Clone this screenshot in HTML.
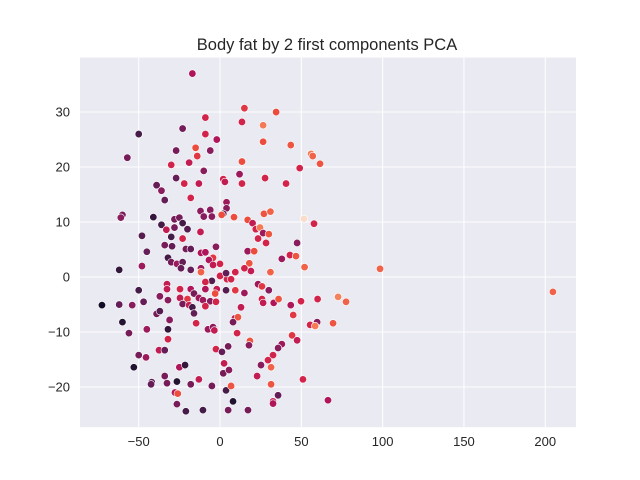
<!DOCTYPE html>
<html><head><meta charset="utf-8">
<style>
html,body{margin:0;padding:0;background:#fff;}
svg{display:block;font-family:"Liberation Sans","DejaVu Sans",sans-serif;}
</style></head>
<body>
<svg id="chart" width="640" height="480" viewBox="0 0 640 480" xmlns="http://www.w3.org/2000/svg">
<rect x="0" y="0" width="640" height="480" fill="#ffffff"/>
<rect x="80" y="57.6" width="496" height="369.6" fill="#eaeaf2"/>
<g id="grid"></g>
<g id="points"></g>
<g id="xticks"></g>
<g id="yticks"></g>
<text x="327" y="50" text-anchor="middle" font-size="16.5" fill="#262626">Body fat by 2 first components PCA</text>
</svg>
<script>
const xTicks=[-50,0,50,100,150,200];
const yTicks=[-20,-10,0,10,20,30];
const pc1=[-17,-9,-50,-23,-9,-2,-27,-15,-14,-6,-57,-30,-19,-10,-27,-22,-13,2,3,-39,-36,-34,-18,4,4,-12,-6,-10,-5,2,1,-60,-61,-41,-36,-28,-25,-28,-23,-20,-33,-12,-48,-30,-23,
15,34.5,13.5,26.5,26.5,43.5,56,57,61.5,13.5,49,12,27.7,13.5,40.6,8.6,17,27,31,51.7,57.8,20,22,24.6,26.5,30,23.4,
-45,-34,-29.5,-21,-18,-2.5,-11.7,-9,-4.3,-6.8,0,-4.3,-32,-30,-26.5,-23,-24,-18,-11.7,-62,-48,-11.7,-5,0,4.3,3.7,-9,-32.6,-32.6,-24.6,-18,-9,-2,-3,-50,-37,-32,-47,-72.6,-62,-54,-24.6,-20,-16,-13,-10.5,-6,-2.5,-23,-19,-17,-9,-16,-39,-37,-60,-56,-31,-14.7,-45,-32,-7.4,-4.3,-3.5,-32,-37.5,-34,-2.5,-50,-45.5,-53,-25,-21.5,-34,-42,-42.4,-32.6,-26.5,-18,-13,-5,-27.7,-26,-26.5,-10.5,2.5,2,3.7,
28.3,47.4,17,21,38,43,46.7,52,18,19,15,31,9.4,6.8,3.7,9.4,15,23.4,25.8,30,25.8,26.5,33,36,43.5,49.8,60,72.6,77.5,45,55.4,59.7,58.5,69.5,12.9,9.2,11,8,10.5,18.4,17.8,44.3,47.4,38,35.7,5,1.2,32.6,29.5,25.2,31.4,5.5,22.8,51,31.4,6.8,35.7,32.6,32.6,8,66.4,17.2,5,-21,98.4,204.7];
const pc2=[37,29,26,27,26,25,23,23.5,22,23,21.7,20.4,20.8,19.3,18,17,17,17.8,17.3,16.7,15.7,14,14.4,13.6,12.5,12,12.2,11,11,11.5,11.3,11.3,10.8,10.9,9.5,10.5,10.8,9,9.8,8.7,8.6,8.2,7.5,7.3,7,
30.7,30,28.2,27.6,24.6,24,22.4,22,20.6,21,19.8,18.7,18,17,17,10.9,10.4,11.5,11.9,10.6,9.7,9.8,8.7,9,8,7.8,7,
4.6,5.8,5.6,5.1,5.1,5.5,4.4,4.5,3.5,3.1,2.4,2.2,3.5,2.7,2.4,2.7,1.6,1.3,1.6,1.3,2,0.9,-0.7,0.2,-0.4,-2.4,-0.9,-1.3,-2.2,-2.2,-2.2,-2.2,-2.2,-3,-2.4,-3.5,-4.2,-4.5,-5.1,-5,-5.1,-3.8,-4,-3,-3.8,-4.2,-4.4,-4.5,-4.9,-5.1,-5.5,-5.3,-6.6,-6.7,-6.2,-8.2,-10.2,-7.8,-8.4,-9.5,-9.5,-9.5,-9.1,-9.7,-11.3,-13.3,-13.3,-13.1,-14.2,-14.6,-16.4,-16.4,-16,-18,-19.1,-19.5,-19.3,-19,-19.5,-18.6,-19.8,-21,-21.2,-23.1,-24.2,-15.7,-17.5,-20.6,
6.2,6.2,4.7,4.7,3.3,4,3.8,1.8,2.5,1.1,1.6,0.9,0.9,-0.4,0.7,-2.4,-2.9,-1.3,-1.7,-2.4,-4,-4.7,-4.7,-4,-5.1,-4.4,-4,-3.6,-4.5,-6.9,-8.7,-8.2,-8.9,-8.4,-5.5,-7.5,-7.3,-8.2,-10.2,-11.6,-12.4,-10.6,-11.5,-12.2,-12.9,-12.6,-13.6,-14.2,-15.1,-16,-16.4,-16.9,-18,-18.6,-19.5,-19.8,-21.5,-22.6,-23,-22.6,-22.4,-24.2,-24.2,-24.4,1.5,-2.7];
const bodyFat=[.5,.6,.2,.35,.6,.5,.35,.7,.65,.4,.35,.6,.55,.4,.3,.6,.55,.6,.55,.3,.4,.3,.6,.45,.4,.4,.4,.4,.4,.3,.7,.35,.4,.15,.2,.35,.35,.35,.2,.25,.55,.55,.25,.2,.6,
.65,.7,.6,.8,.7,.72,.8,.75,.72,.7,.6,.45,.6,.6,.6,.7,.7,.72,.75,.98,.6,.55,.6,.8,.45,.72,.6,
.3,.35,.3,.35,.3,.4,.5,.5,.65,.5,.6,.55,.2,.35,.45,.3,.3,.3,.45,.15,.45,.75,.25,.6,.6,.25,.6,.55,.55,.6,.5,.5,.55,.7,.2,.4,.4,.3,.05,.3,.4,.55,.65,.35,.45,.45,.4,.6,.35,.55,.2,.6,.3,.35,.25,.1,.35,.4,.6,.45,.15,.45,.4,.55,.6,.55,.3,.6,.35,.45,.1,.5,.15,.35,.3,.3,.35,.1,.35,.55,.35,.5,.7,.35,.2,.55,.35,.2,
.6,.4,.45,.7,.45,.6,.72,.75,.72,.55,.6,.75,.6,.6,.3,.65,.45,.45,.65,.4,.6,.55,.5,.72,.5,.6,.6,.82,.75,.65,.6,.4,.8,.72,.55,.55,.72,.35,.6,.72,.4,.65,.55,.45,.4,.35,.3,.6,.6,.4,.75,.4,.55,.6,.72,.72,.3,.55,.5,.1,.5,.35,.35,.2,.75,.75];

const X0=80,X1=576,Y0=57.6,Y1=427.2;
const xMin=-86.1,xMax=218.9,yMin=-27.3,yMax=39.9;
function xs(v){return X0+(v-xMin)/(xMax-xMin)*(X1-X0);}
function ys(v){return Y1-(v-yMin)/(yMax-yMin)*(Y1-Y0);}
const stops=[[3,5,26],[34,19,49],[69,28,71],[100,29,86],[136,28,92],[175,22,90],[210,36,74],[235,76,62],[244,122,86],[246,164,124],[250,235,221]];
function rocket(t){t=Math.max(0,Math.min(1,t))*10;const i=Math.min(9,Math.floor(t)),f=t-i;const a=stops[i],b=stops[i+1];
return 'rgb('+a.map((c,k)=>Math.round(c+(b[k]-c)*f)).join(',')+')';}
const NS='http://www.w3.org/2000/svg';
const grid=document.getElementById('grid'),xt=document.getElementById('xticks'),yt=document.getElementById('yticks'),pts=document.getElementById('points');
xTicks.forEach(v=>{
 const l=document.createElementNS(NS,'line');
 
 
 l.setAttribute('x1',xs(v));l.setAttribute('x2',xs(v));l.setAttribute('y1',Y0);l.setAttribute('y2',Y1);
 l.setAttribute('stroke','#fff');l.setAttribute('stroke-width','1');grid.appendChild(l);
 const t=document.createElementNS(NS,'text');
 
 
 t.setAttribute('x',xs(v));t.setAttribute('y',446);t.setAttribute('text-anchor','middle');t.setAttribute('font-size','13');t.setAttribute('fill','#262626');
 t.textContent=v<0?'\u2212'+Math.abs(v):String(v);xt.appendChild(t);
});
yTicks.forEach(v=>{
 const l=document.createElementNS(NS,'line');
 
 
 l.setAttribute('x1',X0);l.setAttribute('x2',X1);l.setAttribute('y1',ys(v));l.setAttribute('y2',ys(v));
 l.setAttribute('stroke','#fff');l.setAttribute('stroke-width','1');grid.appendChild(l);
 const t=document.createElementNS(NS,'text');
 
 
 t.setAttribute('x',70);t.setAttribute('y',ys(v)+4.5);t.setAttribute('text-anchor','end');t.setAttribute('font-size','13');t.setAttribute('fill','#262626');
 t.textContent=v<0?'\u2212'+Math.abs(v):String(v);yt.appendChild(t);
});
for(let i=0;i<pc1.length;i++){
 const c=document.createElementNS(NS,'circle');
 
 
 c.setAttribute('cx',xs(pc1[i]));c.setAttribute('cy',ys(pc2[i]));c.setAttribute('r','3.7');
 c.setAttribute('fill',rocket(bodyFat[i]));c.setAttribute('stroke','#fff');c.setAttribute('stroke-width','0.6');
 pts.appendChild(c);
}
</script>
</body></html>
